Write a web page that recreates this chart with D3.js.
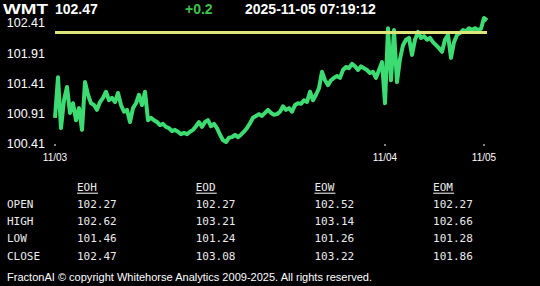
<!DOCTYPE html>
<html>
<head>
<meta charset="utf-8">
<script src="https://cdn.jsdelivr.net/npm/d3@7"></script>
<style>
  body { margin: 0; background: #000; overflow: hidden; }
  svg { display: block; }
</style>
</head>
<body>
<script>
var width = 540, height = 286;

// Header
var ticker = "WMT";
var lastPrice = "102.47";
var change = "+0.2";
var stamp = "2025-11-05 07:19:12";

// Price series (sampled, left to right)
var prices = [100.86,101.53,100.69,101.15,101.37,100.94,101.10,100.82,101.02,100.66,
  101.45,101.24,101.10,101.07,100.99,101.12,101.19,101.29,101.15,101.19,
  101.12,101.27,101.07,100.96,100.99,100.79,101.02,101.10,101.24,101.07,
  101.29,100.82,100.86,100.82,100.79,100.74,100.76,100.71,100.69,100.64,
  100.66,100.63,100.59,100.61,100.59,100.63,100.66,100.72,100.79,100.71,
  100.79,100.82,100.72,100.76,100.69,100.58,100.49,100.46,100.53,100.54,
  100.58,100.54,100.58,100.63,100.69,100.77,100.86,100.89,100.92,100.89,
  100.94,100.99,100.94,100.91,100.92,100.96,101.05,100.99,101.02,100.96,
  101.07,101.10,101.09,101.15,101.12,101.29,101.15,101.24,101.35,101.62,
  101.48,101.40,101.48,101.52,101.55,101.52,101.65,101.70,101.68,101.75,
  101.71,101.65,101.71,101.68,101.65,101.60,101.62,101.52,101.65,101.78,
  101.10,102.34,101.48,102.31,101.45,101.83,102.06,102.15,102.18,101.90,
  102.15,102.28,102.18,102.21,102.15,102.18,102.11,102.06,102.01,101.95,
  102.15,102.23,101.85,102.11,102.23,102.26,102.31,102.29,102.34,102.31,
  102.34,102.31,102.33,102.51,102.47];

var refLevel = 102.27;
var yTicks = [100.41, 100.91, 101.41, 101.91, 102.41];
var xTickIdx = [0, 110, 143];
var xTickLabels = ["11/03", "11/04", "11/05"];

// Stats table
var rowLabels = ["OPEN", "HIGH", "LOW", "CLOSE"];
var colHeads = ["EOH", "EOD", "EOW", "EOM"];
var eoh = [102.27, 102.62, 101.46, 102.47];
var eod = [102.27, 103.21, 101.24, 103.08];
var eow = [102.52, 103.14, 101.26, 103.22];
var eom = [102.27, 102.66, 101.28, 101.86];

var footer = "FractonAI \u00A9 copyright Whitehorse Analytics 2009-2025. All rights reserved.";

var svg = d3.select("body").append("svg")
    .attr("width", width)
    .attr("height", height);

svg.append("rect").attr("width", width).attr("height", height).attr("fill", "#000");

// header texts
var head = svg.append("g")
    .attr("font-family", "Arial, 'Liberation Sans', sans-serif")
    .attr("font-weight", "bold")
    .attr("font-size", "14px");
head.append("text").attr("x", 3).attr("y", 14).attr("fill", "#fff")
    .attr("textLength", 45).attr("lengthAdjust", "spacingAndGlyphs").text(ticker);
head.append("text").attr("x", 55).attr("y", 14).attr("fill", "#fff").text(lastPrice);
head.append("text").attr("x", 185).attr("y", 14).attr("fill", "#3cc24a").text(change);
head.append("text").attr("x", 245).attr("y", 14).attr("fill", "#fff").text(stamp);

// scales
var x = d3.scaleLinear().domain([0, prices.length - 1]).range([55, 487]);
var y = d3.scaleLinear().domain([100.41, 102.41]).range([145, 24]);

// y labels
svg.append("g")
    .selectAll("text")
    .data(yTicks)
    .enter().append("text")
    .attr("x", 45)
    .attr("y", function (d) { return y(d) - 1; })
    .attr("dy", "0.35em")
    .attr("text-anchor", "end")
    .attr("font-family", "Arial, 'Liberation Sans', sans-serif")
    .attr("font-size", "12.5px")
    .attr("fill", "#fff")
    .text(function (d) { return d3.format(".2f")(d); });

// x ticks
var xt = svg.append("g").selectAll("g")
    .data(xTickIdx)
    .enter().append("g")
    .attr("transform", function (d) { return "translate(" + x(d) + ",0)"; });
xt.append("rect").attr("x", -0.5).attr("y", 144).attr("width", 1).attr("height", 2).attr("fill", "#fff");
xt.append("text")
    .attr("y", 157)
    .attr("dy", "0.35em")
    .attr("text-anchor", "middle")
    .attr("font-family", "Arial, 'Liberation Sans', sans-serif")
    .attr("font-size", "10px")
    .attr("fill", "#fff")
    .text(function (d, i) { return xTickLabels[i]; });

// price line
var line = d3.line()
    .x(function (d, i) { return x(i); })
    .y(function (d) { return y(d); });

svg.append("path")
    .datum(prices)
    .attr("d", line)
    .attr("fill", "none")
    .attr("stroke", "#3ddc72")
    .attr("stroke-width", 4)
    .attr("stroke-linejoin", "round");

// reference level
svg.append("line")
    .attr("x1", x(0)).attr("x2", x(prices.length - 1))
    .attr("y1", y(refLevel)).attr("y2", y(refLevel))
    .attr("stroke", "#dde67c")
    .attr("stroke-width", 3);

// table
var colX = d3.scaleLinear().domain([0, 1]).range([77, 195.7]);
var rowY = d3.scaleLinear().domain([0, 1]).range([204, 221.3]);
var cols = [eoh, eod, eow, eom];

var tbl = svg.append("g")
    .attr("font-family", "'DejaVu Sans Mono', 'Liberation Mono', monospace")
    .attr("font-size", "11px")
    .attr("fill", "#ececec");

var heads = tbl.selectAll(".head")
    .data(colHeads)
    .enter().append("g")
    .attr("class", "head")
    .attr("transform", function (d, i) { return "translate(" + colX(i) + "," + rowY(-1) + ")"; });
heads.append("text").attr("dy", "0.35em").text(function (d) { return d; });
heads.append("rect").attr("x", 0).attr("y", 6).attr("width", 21).attr("height", 1).attr("fill", "#fff");

tbl.selectAll(".rl")
    .data(rowLabels)
    .enter().append("text")
    .attr("class", "rl")
    .attr("x", 7)
    .attr("y", function (d, i) { return rowY(i); })
    .attr("dy", "0.35em")
    .text(function (d) { return d; });

cols.forEach(function (col, c) {
    tbl.selectAll(".c" + c)
        .data(col)
        .enter().append("text")
        .attr("class", "c" + c)
        .attr("x", colX(c))
        .attr("y", function (d, i) { return rowY(i); })
        .attr("dy", "0.35em")
        .text(function (d) { return d3.format(".2f")(d); });
});

// footer
svg.append("text")
    .attr("x", 7)
    .attr("y", 277)
    .attr("dy", "0.35em")
    .attr("font-family", "Arial, 'Liberation Sans', sans-serif")
    .attr("font-size", "11.5px")
    .attr("fill", "#fff")
    .attr("textLength", 365)
    .attr("lengthAdjust", "spacingAndGlyphs")
    .text(footer);
</script>
</body>
</html>
